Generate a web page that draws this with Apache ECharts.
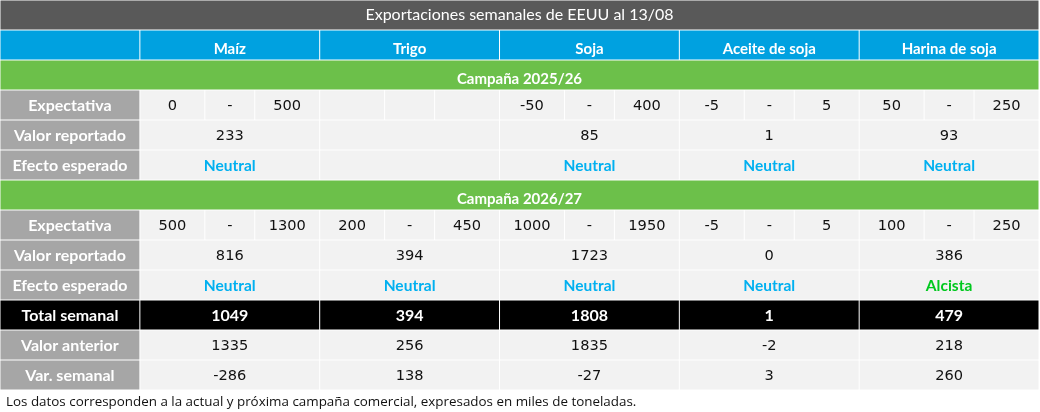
<!DOCTYPE html>
<html>
<head>
<meta charset="utf-8">
<script src="https://cdn.jsdelivr.net/npm/echarts@6/dist/echarts.min.js"></script>
<style>
html,body{margin:0;padding:0;background:#fff;}
#chart{width:1040px;height:412px;}
</style>
</head>
<body>
<div id="chart"></div>
<script>
// ---------- data ----------
const chartTitle = 'Exportaciones semanales de EEUU al 13/08';
const products = ['Maíz', 'Trigo', 'Soja', 'Aceite de soja', 'Harina de soja'];
const campaigns = ['Campaña 2025/26', 'Campaña 2026/27'];
const campaignRowLabels = ['Expectativa', 'Valor reportado', 'Efecto esperado'];
const summaryRowLabels = ['Total semanal', 'Valor anterior', 'Var. semanal'];

const expLow2526  = [0, null, -50, -5, 50];
const expHigh2526 = [500, null, 400, 5, 250];
const reported2526 = [233, null, 85, 1, 93];
const effect2526 = ['Neutral', null, 'Neutral', 'Neutral', 'Neutral'];

const expLow2627  = [500, 200, 1000, -5, 100];
const expHigh2627 = [1300, 450, 1950, 5, 250];
const reported2627 = [816, 394, 1723, 0, 386];
const effect2627 = ['Neutral', 'Neutral', 'Neutral', 'Neutral', 'Alcista'];

const totalWeekly = [1049, 394, 1808, 1, 479];
const previousValue = [1335, 256, 1835, -2, 218];
const weeklyChange = [-286, 138, -27, 3, 260];

const footnote = 'Los datos corresponden a la actual y próxima campaña comercial, expresados en miles de toneladas.';

// ---------- styles ----------
const LABEL_W = 7 / 9;            // label column width in product-column units
const SUB = [0, 65 / 180, 115 / 180, 1]; // sub-column split of expectation cells
const STYLES = {
  title:  { fill: '#595959', color: '#ffffff', font: '16px Lato', dy: 0 },
  head:   { fill: '#00a1e0', color: '#ffffff', font: 'bold 15px Lato', dy: 4 },
  camp:   { fill: '#6cc04a', color: '#ffffff', font: 'bold 15px Lato', dy: 4 },
  label:  { fill: '#a6a6a6', color: '#ffffff', font: 'bold 16px Lato', dy: 1 },
  num:    { fill: '#f2f2f2', color: '#111111', font: '14.6px "DejaVu Sans"', dy: 1 },
  effect: { fill: '#f2f2f2', color: '#00b0f0', font: 'bold 15.5px Lato', dy: 1 },
  total:  { fill: '#000000', color: '#ffffff', font: 'bold 16px Lato', dy: 1 }
};
const EFFECT_COLORS = { Neutral: '#00b0f0', Alcista: '#00c81e', Bajista: '#e02020' };

// ---------- build cells ----------
const rowIds = [];
const cells = [];
function fmt(v) { return v === null || v === undefined ? '' : String(v); }
function addRow(id) { rowIds.push(id); return rowIds.length - 1; }
function cell(x0, x1, row, text, kind, color) { cells.push({ x0, x1, row, text, kind, color }); }

let r = addRow('title');
cell(-LABEL_W, products.length, r, chartTitle, 'title');
r = addRow('header');
cell(-LABEL_W, 0, r, '', 'head');
products.forEach((p, i) => cell(i, i + 1, r, p, 'head'));

const campaignData = [
  [expLow2526, expHigh2526, reported2526, effect2526],
  [expLow2627, expHigh2627, reported2627, effect2627]
];
campaigns.forEach((c, ci) => {
  const [lo, hi, rep, eff] = campaignData[ci];
  let rr = addRow('camp' + ci);
  cell(-LABEL_W, products.length, rr, c, 'camp');
  rr = addRow('exp' + ci);
  cell(-LABEL_W, 0, rr, campaignRowLabels[0], 'label');
  products.forEach((p, i) => {
    const has = lo[i] !== null;
    cell(i + SUB[0], i + SUB[1], rr, fmt(lo[i]), 'num');
    cell(i + SUB[1], i + SUB[2], rr, has ? '-' : '', 'num');
    cell(i + SUB[2], i + SUB[3], rr, fmt(hi[i]), 'num');
  });
  rr = addRow('rep' + ci);
  cell(-LABEL_W, 0, rr, campaignRowLabels[1], 'label');
  products.forEach((p, i) => cell(i, i + 1, rr, fmt(rep[i]), 'num'));
  rr = addRow('eff' + ci);
  cell(-LABEL_W, 0, rr, campaignRowLabels[2], 'label');
  products.forEach((p, i) => cell(i, i + 1, rr, fmt(eff[i]), 'effect', EFFECT_COLORS[eff[i]]));
});

const summaryData = [totalWeekly, previousValue, weeklyChange];
summaryRowLabels.forEach((lab, si) => {
  const rr = addRow('sum' + si);
  const kind = si === 0 ? 'total' : 'num';
  cell(-LABEL_W, 0, rr, lab, si === 0 ? 'total' : 'label');
  products.forEach((p, i) => cell(i, i + 1, rr, fmt(summaryData[si][i]), kind));
});

// ---------- chart ----------
function renderItem(params, api) {
  const c = cells[params.dataIndex];
  const st = STYLES[c.kind];
  const p0 = api.coord([api.value(0), api.value(2)]);
  const p1 = api.coord([api.value(1), api.value(2)]);
  const h = api.size([0, 1])[1];
  const left = p0[0], right = p1[0], top = p0[1] - h / 2;
  return {
    type: 'group',
    children: [
      { type: 'rect', shape: { x: left + 0.5, y: top + 0.5, width: right - left - 1, height: h - 1 },
        style: { fill: st.fill } },
      { type: 'text', x: (left + right) / 2, y: top + h / 2 + st.dy,
        style: { text: c.text, fill: c.color || st.color, font: st.font, align: 'center', verticalAlign: 'middle' } }
    ]
  };
}

const chart = echarts.init(document.getElementById('chart'), null, { renderer: 'canvas' });
chart.setOption({
  animation: false,
  backgroundColor: '#ffffff',
  title: {
    text: footnote, left: 1, top: 391,
    textStyle: { fontSize: 13.4, fontWeight: 'normal', fontFamily: '"Open Sans"', color: '#111111' }
  },
  grid: { left: 0, right: 1, top: 0, height: 30 * rowIds.length },
  xAxis: { type: 'value', min: -LABEL_W, max: products.length, show: false },
  yAxis: { type: 'category', data: rowIds, inverse: true, show: false },
  series: [{
    type: 'custom',
    renderItem: renderItem,
    encode: { x: [0, 1], y: 2 },
    data: cells.map(c => [c.x0, c.x1, c.row])
  }]
});
</script>
</body>
</html>
